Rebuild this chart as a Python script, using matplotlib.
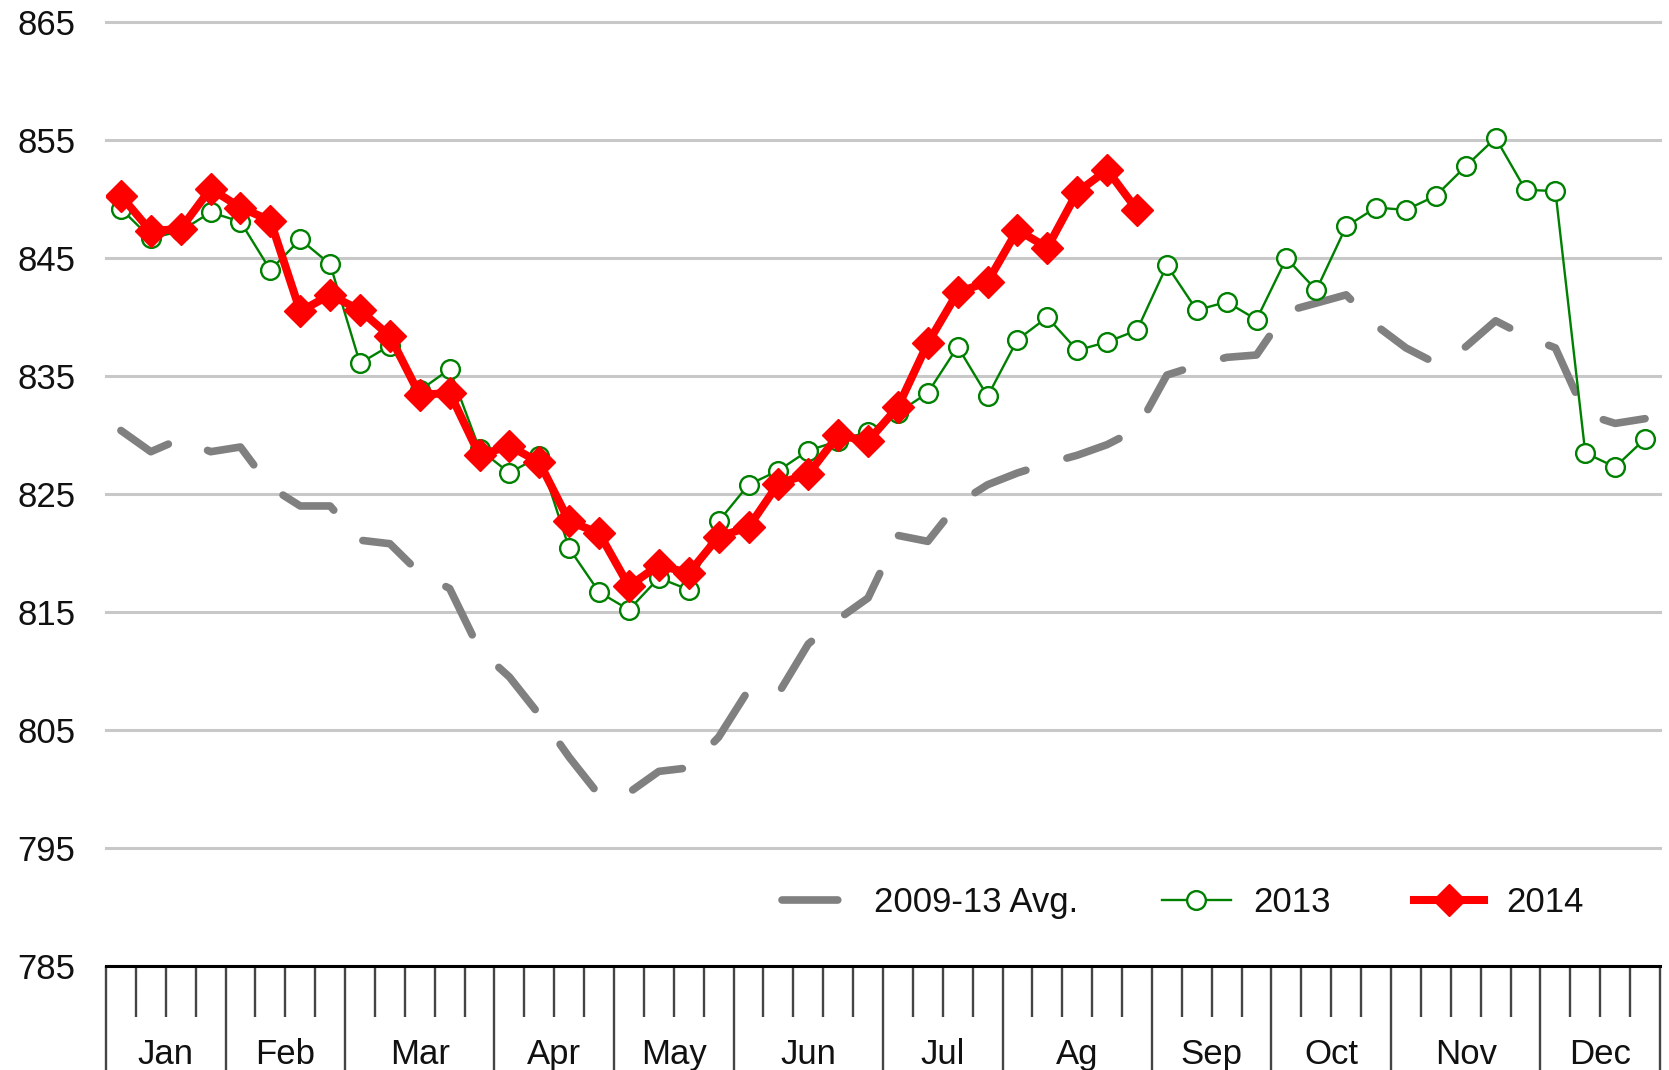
import matplotlib
matplotlib.use('Agg')
import matplotlib.pyplot as plt
import matplotlib.transforms as mtransforms
import numpy as np

months = ["Jan", "Feb", "Mar", "Apr", "May", "Jun", "Jul", "Ag", "Sep", "Oct", "Nov", "Dec"]
weeks_per_month = [4, 4, 5, 4, 4, 5, 4, 5, 4, 4, 5, 4]
yticks = [785, 795, 805, 815, 825, 835, 845, 855, 865]

avg_0913 = [830.4, 828.6, 829.7, 828.6, 829.0, 825.6, 824.0, 824.0, 821.1, 820.8,
            818.3, 817.0, 811.8, 809.5, 806.3, 802.7, 799.5, 799.7, 801.5, 801.8,
            804.4, 808.4, 808.1, 812.3, 814.4, 816.2, 821.5, 821.0, 824.2, 825.8,
            826.8, 827.6, 828.3, 829.2, 830.5, 835.1, 835.9, 836.6, 836.8, 840.5,
            841.2, 841.9, 839.3, 837.4, 836.1, 837.5, 839.7, 838.4, 837.4, 831.8,
            831.0, 831.4]

y2013 = [849.2, 846.7, 847.3, 848.9, 848.1, 844.0, 846.6, 844.5, 836.1, 837.6,
         833.8, 835.6, 828.8, 826.8, 828.2, 820.4, 816.7, 815.2, 817.9, 816.9,
         822.7, 825.8, 827.0, 828.7, 829.5, 830.3, 831.9, 833.6, 837.5, 833.3,
         838.1, 840.0, 837.2, 837.9, 838.9, 844.4, 840.6, 841.3, 839.8, 845.0,
         842.3, 847.7, 849.3, 849.1, 850.3, 852.8, 855.2, 850.8, 850.7, 828.5,
         827.3, 829.7]

y2014 = [850.3, 847.3, 847.5, 850.9, 849.3, 848.2, 840.5, 841.9, 840.6, 838.4,
         833.4, 833.6, 828.3, 829.1, 827.7, 822.7, 821.7, 817.2, 819.0, 818.3,
         821.4, 822.2, 825.9, 826.7, 830.0, 829.5, 832.4, 837.8, 842.1, 843.0,
         847.4, 845.9, 850.6, 852.5, 849.1]

plt.rcParams['font.family'] = ['Liberation Sans', 'DejaVu Sans']

fig = plt.figure(figsize=(16.69, 10.70), dpi=100)
ax = fig.add_axes([0.0635, 0.0972, 0.9311, 0.8819])

x_avg = np.arange(len(avg_0913)) + 0.5
x13 = np.arange(len(y2013)) + 0.5
x14 = np.arange(len(y2014)) + 0.5

ax.plot(x_avg, avg_0913, color='#808080', lw=5.5, dashes=(7.3, 5.6),
        dash_capstyle='round', solid_capstyle='round', label='2009-13 Avg.', zorder=2)
ax.plot(x13, y2013, color='#008000', lw=1.7, marker='o', ms=13.5, mfc='white',
        mec='#008000', mew=1.7, label='2013', zorder=3)
ax.plot(x14, y2014, color='#ff0000', lw=5.8, marker='D', ms=16, mfc='#ff0000',
        mec='#ff0000', label='2014', zorder=4)

nweeks = sum(weeks_per_month)
ax.set_xlim(0, nweeks)
ax.set_ylim(785, 865)

# y axis
ax.set_yticks(yticks)
ax.tick_params(axis='y', length=0, pad=22, labelsize=25, labelcolor='#111111')
ax.yaxis.grid(True, color='#c8c8c8', lw=2.2)
for gl in ax.get_ygridlines():
    gl.set_clip_on(False)
ax.set_axisbelow(True)

# x axis
bounds = np.concatenate([[0], np.cumsum(weeks_per_month)])
ax.set_xticks(bounds)
ax.set_xticklabels([])
ax.set_xticks(np.arange(nweeks + 1), minor=True)
ax.tick_params(axis='x', which='major', direction='out', length=75, width=1.7, color='#444444')
ax.tick_params(axis='x', which='minor', direction='out', length=37, width=1.7, color='#444444')

trans = mtransforms.blended_transform_factory(ax.transData, ax.transAxes)
centers = (bounds[:-1] + bounds[1:]) / 2
for c, m in zip(centers, months):
    ax.text(c, -0.094, m, transform=trans, ha='center', va='center',
            fontsize=25, color='#111111')

for s in ['left', 'right', 'top']:
    ax.spines[s].set_visible(False)
ax.spines['bottom'].set_color('black')
ax.spines['bottom'].set_linewidth(2.2)

leg = ax.legend(loc='center', bbox_to_anchor=(0.693, 0.067), ncol=3, frameon=False,
                fontsize=25, handlelength=2.0, handletextpad=0.65, columnspacing=2.4)
for t in leg.get_texts():
    t.set_color('#111111')

fig.savefig('out.png', dpi=100)
